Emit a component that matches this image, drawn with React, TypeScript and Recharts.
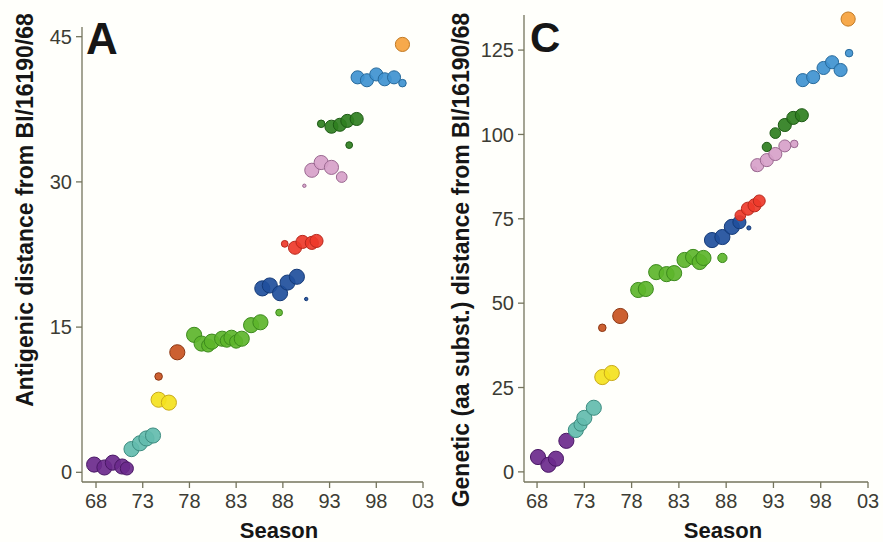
import React from 'react';
import { ScatterChart, Scatter, XAxis, YAxis, ZAxis } from 'recharts';

// antigenic clusters, in order of appearance
const clusters = ['HK68', 'EN72', 'VI75', 'TX77', 'BK79', 'SI87', 'BE89', 'BE92', 'WU95', 'SY97', 'FU02'];
const fills = ['#6b2a8c', '#63bcae', '#f4e21e', '#c8521f', '#5db52b', '#1f4f9c', '#ee3a2a', '#d7a1c9', '#2f7f20', '#3f92d0', '#f6a23c'];
const edges = ['#4a1866', '#3d8c80', '#c9aa1a', '#8c3612', '#3c8a1c', '#143a78', '#b8281c', '#9a6890', '#1d5a14', '#276a9c', '#c27a24'];

// [season, antigenic distance, strain weight]
const antHK68 = [[67.8, 0.8, 4], [68.9, 0.5, 4], [69.8, 1.0, 4], [70.8, 0.6, 4], [71.3, 0.4, 3]];
const antEN72 = [[71.8, 2.4, 4], [72.7, 3.0, 4], [73.4, 3.5, 4], [74.1, 3.8, 4]];
const antVI75 = [[74.7, 7.5, 4], [75.8, 7.2, 4]];
const antTX77 = [[74.7, 9.9, 1], [76.7, 12.4, 4]];
const antBK79 = [[78.5, 14.2, 4], [79.3, 13.3, 4], [80.0, 13.1, 3], [80.4, 13.5, 4], [81.5, 13.8, 4], [82.0, 13.6, 3], [82.5, 13.9, 4], [83.0, 13.5, 3], [83.6, 13.8, 4], [84.6, 15.2, 4], [85.6, 15.5, 4], [87.6, 16.5, 0.8]];
const antSI87 = [[85.8, 19.0, 4], [86.6, 19.3, 4], [87.7, 18.5, 4], [88.5, 19.6, 4], [89.5, 20.2, 4], [90.5, 17.9, 0.2]];
const antBE89 = [[88.2, 23.6, 0.8], [89.3, 23.2, 3], [90.1, 23.8, 3], [91.1, 23.7, 3], [91.6, 23.9, 3]];
const antBE92 = [[90.3, 29.6, 0.2], [91.1, 31.2, 3.5], [92.1, 32.0, 3.5], [93.2, 31.5, 3.5], [94.3, 30.5, 2]];
const antWU95 = [[92.1, 36.0, 1], [93.2, 35.7, 3], [94.1, 35.9, 3], [94.9, 36.3, 3], [95.9, 36.5, 3], [95.1, 33.8, 0.8]];
const antSY97 = [[96.0, 40.8, 3], [97.0, 40.5, 3], [98.0, 41.1, 3], [98.9, 40.6, 3], [99.9, 40.8, 3], [100.8, 40.2, 1]];
const antFU02 = [[100.8, 44.2, 3.5]];

// [season, aa substitutions, strain weight]
const genHK68 = [[68.1, 4.4, 4], [69.2, 2.1, 4], [70.0, 3.9, 4], [71.1, 9.2, 4]];
const genEN72 = [[72.1, 12.4, 4], [72.6, 14.0, 3], [73.0, 16.0, 4], [74.0, 19.0, 4]];
const genVI75 = [[74.9, 28.1, 4], [75.9, 29.3, 4]];
const genTX77 = [[74.9, 42.7, 1], [76.8, 46.2, 4]];
const genBK79 = [[78.7, 53.9, 4], [79.5, 54.2, 4], [80.6, 59.2, 4], [81.7, 58.6, 4], [82.5, 58.9, 4], [83.6, 62.8, 4], [84.5, 63.7, 4], [85.2, 62.2, 4], [85.6, 63.4, 4], [87.6, 63.4, 1.5]];
const genSI87 = [[86.5, 68.7, 4], [87.6, 69.6, 4], [88.6, 72.6, 4], [89.4, 74.0, 3], [90.4, 72.3, 0.3]];
const genBE89 = [[89.5, 76.0, 2], [90.3, 78.0, 3], [91.0, 79.0, 3], [91.5, 80.3, 2.5]];
const genBE92 = [[91.0, 89.8, 0.3], [91.3, 90.9, 3], [92.3, 92.4, 3], [93.2, 94.2, 3], [94.2, 96.6, 2.5], [95.2, 97.2, 1]];
const genWU95 = [[92.3, 96.3, 1.5], [93.2, 100.4, 2], [94.2, 102.8, 3], [95.1, 104.9, 3], [96.0, 105.7, 3]];
const genSY97 = [[96.1, 116.1, 3], [97.2, 117.0, 3], [98.3, 119.7, 3], [99.2, 121.4, 3], [100.1, 119.1, 3], [101.0, 124.1, 1]];
const genFU02 = [[100.9, 134.2, 3.5]];

const seasonTicks = [68, 73, 78, 83, 88, 93, 98, 103];
const antTicks = [0, 15, 30, 45];
const genTicks = [0, 25, 50, 75, 100, 125];

const antigenic = [antHK68, antEN72, antVI75, antTX77, antBK79, antSI87, antBE89, antBE92, antWU95, antSY97, antFU02];
const genetic = [genHK68, genEN72, genVI75, genTX77, genBK79, genSI87, genBE89, genBE92, genWU95, genSY97, genFU02];

const toPoints = (rows: number[][]) => rows.map(([x, y, n]) => ({ x, y, n }));
const yearLabel = (v: number) => String(v % 100).padStart(2, '0');

const axisColor = '#74745c';
const font = '"Liberation Sans", Arial, sans-serif';
const tickStyle = { fill: '#3c3c34', fontSize: 20, fontFamily: font };

interface PanelProps {
  groups: number[][][];
  yDomain: [number, number];
  xDomain: [number, number];
  yTicks: number[];
  width: number;
  margin: { top: number; right: number; bottom: number; left: number };
}

const Panel: React.FC<PanelProps> = ({ groups, yDomain, xDomain, yTicks, width, margin }) => (
  <ScatterChart width={width} height={542} margin={margin}>
    <XAxis
      type="number"
      dataKey="x"
      domain={xDomain}
      ticks={seasonTicks}
      tickFormatter={yearLabel}
      height={60}
      tickSize={6}
      tickMargin={6}
      stroke={axisColor}
      strokeWidth={1.3}
      tick={tickStyle}
    />
    <YAxis
      type="number"
      dataKey="y"
      domain={yDomain}
      ticks={yTicks}
      width={60}
      tickSize={6}
      tickMargin={4}
      stroke={axisColor}
      strokeWidth={1.3}
      tick={tickStyle}
    />
    <ZAxis type="number" dataKey="n" domain={[0, 4]} range={[0, 180]} />
    {groups.map((g, i) => (
      <Scatter
        key={clusters[i]}
        name={clusters[i]}
        data={toPoints(g)}
        fill={fills[i]}
        stroke={edges[i]}
        strokeWidth={1}
        fillOpacity={0.92}
        isAnimationActive={false}
      />
    ))}
  </ScatterChart>
);

const bold: React.CSSProperties = { position: 'absolute', fontFamily: font, fontWeight: 'bold', color: '#161616', whiteSpace: 'nowrap' };

export default function App() {
  return (
    <div style={{ position: 'absolute', left: 0, top: 0, width: 883, height: 542, background: '#fffffb', overflow: 'hidden' }}>
      <div style={{ position: 'absolute', left: 0, top: 0 }}>
        <Panel
          groups={antigenic}
          xDomain={[66.5, 103]}
          yDomain={[-1, 46]}
          yTicks={antTicks}
          width={440}
          margin={{ top: 27, right: 17, bottom: 0, left: 22 }}
        />
      </div>
      <div style={{ position: 'absolute', left: 440, top: 0 }}>
        <Panel
          groups={genetic}
          xDomain={[66.62, 103]}
          yDomain={[-3, 135.4]}
          yTicks={genTicks}
          width={443}
          margin={{ top: 15, right: 15, bottom: 0, left: 24 }}
        />
      </div>
      <div style={{ ...bold, left: 86, top: 14, fontSize: 44 }}>A</div>
      <div style={{ ...bold, left: 530, top: 14, fontSize: 42 }}>C</div>
      <div style={{ ...bold, left: 25, top: 210, fontSize: 23, transform: 'translate(-50%, -50%) rotate(-90deg)' }}>
        Antigenic distance from BI/16190/68
      </div>
      <div style={{ ...bold, left: 461, top: 260, fontSize: 23, transform: 'translate(-50%, -50%) rotate(-90deg)' }}>
        Genetic (aa subst.) distance from BI/16190/68
      </div>
      <div style={{ ...bold, left: 279, top: 531, fontSize: 22, transform: 'translate(-50%, -50%)' }}>Season</div>
      <div style={{ ...bold, left: 723, top: 531, fontSize: 22, transform: 'translate(-50%, -50%)' }}>Season</div>
    </div>
  );
}
